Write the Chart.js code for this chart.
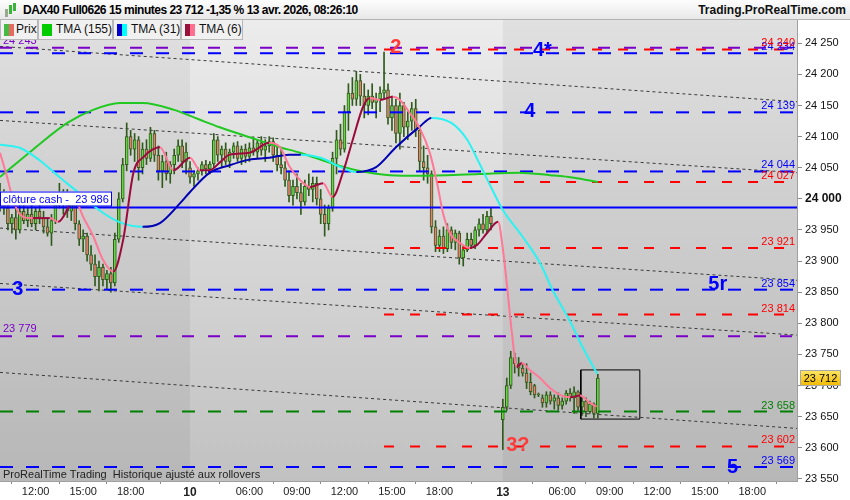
<!DOCTYPE html>
<html>
<head>
<meta charset="utf-8">
<script src="https://cdn.jsdelivr.net/npm/chart.js@4.4.1/dist/chart.umd.min.js"></script>
<style>
  body { margin: 0; background: #fff; font-family: "Liberation Sans", Arial, sans-serif; }
  #wrap { position: relative; width: 850px; height: 500px; overflow: hidden; }
  #chart { position: absolute; left: 0; top: 0; }
  #hdr { position: absolute; left: 0; top: 0; width: 850px; height: 20px; box-sizing: border-box;
         background: linear-gradient(#fdfdfd, #e8e8e8); border-bottom: 1px solid #b4b4b4; }
  #title { position: absolute; left: 23px; top: 3px; font-size: 12px; font-weight: bold; color: #000; letter-spacing: -0.5px; white-space: nowrap; }
  #site { position: absolute; right: 4px; top: 3px; font-size: 12px; font-weight: bold; color: #111; white-space: nowrap; }
  #icon span { position: absolute; width: 3px; }
  #legend { position: absolute; left: 0; top: 20px; height: 20px; }
  .cell { position: absolute; top: 0; height: 20px; box-sizing: border-box; background: #f1f1f1;
          border: 1px solid #b8b8b8; border-top: none; font-size: 12px; color: #111; line-height: 19px; }
  .cell i { position: absolute; top: 4px; width: 5px; height: 12px; }
  .cell b { position: absolute; font-weight: normal; white-space: nowrap; }
</style>
</head>
<body>
<div id="wrap">
  <canvas id="chart" width="850" height="500"></canvas>
  <div id="hdr">
    <div id="icon">
      <span style="left:5px;top:9px;height:8px;background:#9aa890"></span>
      <span style="left:9px;top:5px;height:9px;background:#3cb43c"></span>
      <span style="left:13px;top:3px;height:8px;background:#3cb43c"></span>
    </div>
    <div id="title">DAX40 Full0626 15 minutes 23 712 -1,35 % 13 avr. 2026, 08:26:10</div>
    <div id="site">Trading.ProRealTime.com</div>
  </div>
  <div id="legend">
    <div class="cell" style="left:0;width:38px"><i style="left:3px;background:#44bb44"></i><i style="left:8px;background:#e46a62"></i><b style="left:15px">Prix</b></div>
    <div class="cell" style="left:38px;width:75px"><i style="left:3px;width:10px;background:#00cc00"></i><b style="left:17px">TMA (155)</b></div>
    <div class="cell" style="left:113px;width:68px"><i style="left:3px;background:#0000cc"></i><i style="left:8px;background:#00ffff"></i><b style="left:17px">TMA (31)</b></div>
    <div class="cell" style="left:181px;width:62px"><i style="left:3px;background:#99103c"></i><i style="left:8px;background:#ff6f8f"></i><b style="left:17px">TMA (6)</b></div>
  </div>
</div>
<script>
// 15 minute candles, one slot per index (125-126 = weekend gap)
const opens = [
  23995,24010,23985,23960,23970,23950,23980,23965,23975,23960,
  23980,23970,23955,23945,23965,24000,23995,24005,23980,23995,
  23960,23935,23940,23910,23895,23875,23890,23870,23880,23865,
  23935,24000,24055,24100,24080,24095,24050,24080,24065,24105,
  24070,24045,24060,24040,24055,24070,24085,24060,24050,24035,
  24040,24045,24055,24048,24056,24095,24070,24080,24060,24075,
  24085,24065,24080,24068,24082,24075,24090,24078,24085,24092,
  24070,24055,24050,24030,24005,24020,24010,23995,24020,24015,
  24025,24000,23975,23960,23985,24065,24095,24080,24140,24170,
  24160,24190,24165,24150,24165,24155,24160,24170,24175,24130,
  24150,24105,24150,24115,24125,24145,24110,24060,24050,24040,
  23955,23925,23940,23920,23950,23930,23945,23905,23918,23935,
  23925,23950,23960,23950,23972,null,null,23645,23665,23700,
  23745,23735,23728,23720,23705,23700,23685,23680,23672,23685,
  23675,23680,23668,23675,23688,23680,23690,23665,23675,23658,
  23670,23655
];
const highs = [
  24025,24015,23995,23975,23985,23990,23995,23985,23990,23985,
  23995,23980,23970,23975,24010,24025,24015,24015,24010,24005,
  23965,23950,23945,23925,23910,23900,23895,23885,23890,23945,
  24010,24065,24122,24110,24105,24100,24090,24095,24115,24110,
  24085,24070,24075,24060,24080,24095,24095,24090,24060,24045,
  24050,24060,24062,24060,24105,24100,24085,24090,24080,24090,
  24092,24085,24088,24090,24098,24095,24100,24095,24100,24098,
  24085,24080,24060,24045,24030,24040,24025,24030,24040,24035,
  24035,24015,23990,23990,24075,24110,24120,24150,24185,24195,
  24205,24200,24185,24175,24185,24170,24180,24236,24185,24165,
  24160,24170,24155,24140,24155,24160,24115,24085,24070,24045,
  23965,23950,23955,23960,23955,23950,23948,23925,23945,23945,
  23955,23968,23975,23980,23985,null,null,23678,23712,23755,
  23752,23745,23735,23735,23720,23702,23688,23685,23690,23690,
  23685,23688,23680,23692,23695,23698,23692,23680,23680,23675,
  23672,23718
];
const lows = [
  23980,23975,23950,23945,23935,23945,23960,23955,23955,23950,
  23960,23945,23940,23925,23960,23985,23975,23970,23965,23950,
  23925,23915,23900,23885,23860,23852,23860,23855,23850,23860,
  23930,23995,24045,24070,24060,24030,24040,24055,24060,24060,
  24030,24018,24030,24025,24040,24060,24050,24040,24025,24020,
  24030,24038,24040,24040,24050,24060,24050,24055,24050,24065,
  24060,24055,24058,24060,24070,24065,24070,24060,24075,24060,
  24045,24040,24020,23995,23990,24000,23975,23990,24005,23995,
  23990,23960,23940,23950,23980,24040,24070,24075,24110,24150,
  24150,24150,24130,24135,24145,24130,24140,24160,24120,24110,
  24090,24080,24100,24095,24110,24100,24045,24030,24025,23945,
  23915,23915,23912,23915,23920,23918,23895,23892,23915,23920,
  23920,23940,23945,23945,23950,null,null,23597,23660,23695,
  23720,23715,23715,23695,23685,23680,23682,23665,23665,23670,
  23662,23660,23662,23670,23675,23655,23660,23652,23650,23655,
  23648,23648
];
const closes = [
  24010,23985,23960,23970,23950,23980,23965,23975,23960,23980,
  23970,23955,23945,23965,24000,23995,24005,23980,23995,23960,
  23935,23940,23910,23895,23875,23890,23870,23880,23865,23935,
  24000,24055,24100,24080,24095,24050,24080,24065,24105,24070,
  24045,24060,24040,24055,24070,24085,24060,24075,24035,24040,
  24045,24055,24048,24056,24095,24070,24080,24060,24075,24085,
  24065,24080,24068,24082,24075,24090,24078,24085,24092,24070,
  24055,24050,24030,24005,24020,24010,23995,24020,24015,24025,
  24000,23975,23960,23985,24065,24095,24080,24140,24170,24160,
  24190,24165,24150,24165,24155,24160,24170,24175,24130,24150,
  24105,24150,24115,24125,24145,24110,24060,24050,24040,23955,
  23925,23940,23920,23950,23930,23945,23905,23918,23935,23925,
  23950,23960,23950,23972,23960,null,null,23665,23700,23745,
  23735,23728,23720,23705,23690,23685,23686,23672,23685,23675,
  23680,23668,23675,23688,23680,23690,23665,23675,23658,23670,
  23655,23712
];

// moving averages (slot, price)
const tma155X = [0, 8.3, 17, 23.5, 30.3, 36, 44, 50.5, 55.5, 63, 70.7, 75.8, 83.3, 90, 98.5, 106, 121, 131, 139, 145, 151];
const tma155  = [24035, 24079, 24122, 24143, 24154, 24154, 24143, 24127, 24115, 24099, 24083, 24074, 24058, 24046, 24038, 24037, 24040, 24042, 24038, 24034, 24027];

const tma31X = [0, 5, 10, 15, 20, 25, 30, 36, 40.4, 45.5, 48, 53, 58, 63, 68, 73, 76, 81, 86, 90, 95, 100, 106, 109, 114, 118, 121, 124, 127, 132, 136.4, 139.6, 143.9, 147.2, 150.8];
const tma31  = [24087, 24082, 24062, 24035, 24009, 23982, 23963, 23955, 23961, 23993, 24011, 24042, 24054, 24063, 24066, 24071, 24071, 24066, 24051, 24043, 24051, 24083, 24116, 24130, 24122, 24095, 24058, 24019, 23982, 23939, 23897, 23853, 23804, 23761, 23719];

const tma6X = [0, 1.8, 3.3, 5.8, 8.3, 12.6, 14.7, 18.9, 21, 23.6, 26, 28.6, 31.1, 33.7, 36.2, 40.4, 43.8, 48, 50.5, 53, 55.6, 58, 63, 68, 70.7,
               73.2, 75.8, 78.3, 81.6, 84, 86.6, 89.1, 91.7, 93.4, 96, 99.2, 101, 103.5, 106, 108.6, 110.4, 111.9, 113.6, 116.2, 118.7,
               120.5, 123, 125.8, 127, 128, 129.3, 130.5, 131.8, 133.8, 136.4, 138.9, 141.4, 144, 146.5, 149, 150.7];
const tma6  = [24074, 24035, 23998, 23971, 23969, 23969, 23963, 23998, 23971, 23939, 23902, 23883, 23934, 24042, 24067, 24083, 24046, 24066, 24046, 24046, 24059, 24071, 24074, 24090, 24083,
               24051, 24030, 24019, 24025, 24003, 24042, 24095, 24148, 24162, 24159, 24164, 24159, 24138, 24114, 24073, 24025, 23977, 23945, 23929, 23921,
               23926, 23945, 23963, 23920, 23864, 23784, 23730, 23736, 23725, 23712, 23696, 23685, 23681, 23684, 23672, 23666];

// support / resistance levels
const purpleLevels = [24243, 23779];
const blueLevels   = [24234, 24139, 24044, 23854, 23569];
const redLevels    = [24240, 24027, 23921, 23814, 23602];
const greenLevels  = [23658];
const cashClose    = 23986;

// dotted channel lines: price at the left edge and at the right edge
const trendFrom = [24245, 24126, 23953, 23864, 23721];
const trendTo   = [24156, 24042, 23869, 23781, 23631];

// small box round the last candles
const boxIdx   = [146.7, 161.6];
const boxPrice = [23646, 23725];

// hand-written marks
const markText  = ['2', '4*', '4', '3', '5r', '3?', '5'];
const markIdx   = [100, 137, 133.8, 4.5, 181.3, 130.8, 185];
const markPrice = [24244, 24239, 24141, 23854, 23862, 23603, 23569];

// axes
const tickIdx = [9, 21, 33, 48, 63, 75, 87, 99, 111, 127, 142, 154, 166, 178, 190];
const tickLbl = ['12:00', '15:00', '18:00', '10', '06:00', '09:00', '12:00', '15:00', '18:00', '13', '06:00', '09:00', '12:00', '15:00', '18:00'];
const yTicks = [24250, 24200, 24150, 24100, 24050, 24000, 23950, 23900, 23850, 23800, 23750, 23700, 23650, 23600, 23550];
const X_MAX = 201.3, Y_MIN = 23546.5, Y_MAX = 24287.4;

const FONT = "'Liberation Sans', Arial, sans-serif";
const fmt = v => String(Math.round(v)).replace(/\B(?=(\d{3})+(?!\d))/g, ' ');
const BLUE = '#0000ff', RED = '#ff0000', PURPLE = '#7a00c8', GREEN = '#008000';

const candleIdx = opens.map((o, i) => i).filter(i => opens[i] !== null);
const firstHigh = highs.indexOf(Math.max(...highs.filter(v => v !== null)));
const dayStarts = tickIdx.filter((v, k) => tickLbl[k].indexOf(':') < 0);

function hLine(v, from, color, dash, width, order) {
  return {
    type: 'line', data: [{x: from, y: v}, {x: X_MAX, y: v}],
    borderColor: color, borderWidth: width, borderDash: dash,
    pointRadius: 0, fill: false, tension: 0, order: order
  };
}
function tma(xs, ys, up, down, order) {
  return {
    type: 'line', data: xs.map((x, k) => ({x: x, y: ys[k]})),
    borderColor: up, borderWidth: 2, pointRadius: 0, fill: false,
    cubicInterpolationMode: 'monotone',
    segment: { borderColor: c => c.p1.parsed.y >= c.p0.parsed.y ? up : down },
    order: order
  };
}

const datasets = [];
trendFrom.forEach((v, k) => datasets.push({
  type: 'line', data: [{x: 0, y: v}, {x: X_MAX, y: trendTo[k]}],
  borderColor: '#3a3a3a', borderWidth: 1, borderDash: [3, 3],
  pointRadius: 0, fill: false, order: 9
}));
datasets.push({
  type: 'bar', data: candleIdx.map(i => ({x: i, y: [lows[i], highs[i]]})),
  backgroundColor: '#2f5a1c', barThickness: 1, grouped: false, order: 8
});
datasets.push({
  type: 'bar', data: candleIdx.map(i => ({x: i, y: [opens[i], closes[i]]})),
  backgroundColor: c => (c.raw && c.raw.y[1] >= c.raw.y[0]) ? '#66d444' : '#e8806c',
  borderColor: '#2f5a1c', borderWidth: 1, borderSkipped: false,
  barThickness: 3, grouped: false, order: 7
});
purpleLevels.forEach(v => datasets.push(hLine(v, 0, PURPLE, [12, 14], 2, 6)));
blueLevels.forEach(v => datasets.push(hLine(v, 0, BLUE, [13, 13], 2, 6)));
redLevels.forEach(v => datasets.push(hLine(v, firstHigh, RED, [10, 16], 2, 6)));
greenLevels.forEach(v => datasets.push(hLine(v, 0, GREEN, [13, 13], 2, 6)));
datasets.push(hLine(cashClose, 0, BLUE, [], 2, 6));
datasets.push({
  type: 'line',
  data: [{x: boxIdx[0], y: boxPrice[0]}, {x: boxIdx[1], y: boxPrice[0]}, {x: boxIdx[1], y: boxPrice[1]},
         {x: boxIdx[0], y: boxPrice[1]}, {x: boxIdx[0], y: boxPrice[0]}],
  borderColor: '#000', borderWidth: 1, pointRadius: 0, fill: false, order: 5
});
datasets.push(tma(tma155X, tma155, '#22c822', '#22c822', 3));
datasets.push(tma(tma31X, tma31, '#0000b4', '#2cf2f2', 2));
datasets.push(tma(tma6X, tma6, '#9b0a3c', '#ff7896', 1));

const decor = {
  id: 'decor',
  beforeDraw(chart) {
    const {ctx, chartArea: a, scales: {x}} = chart;
    ctx.save();
    ctx.fillStyle = '#fff';
    ctx.fillRect(0, 0, chart.width, chart.height);
    const g = ctx.createLinearGradient(0, a.top, 0, a.bottom);
    g.addColorStop(0, '#ececec');
    g.addColorStop(1, '#c1c1c1');
    ctx.fillStyle = g;
    ctx.fillRect(a.left, a.top, a.right - a.left, a.bottom - a.top);
    // every other session a little darker
    const edges = [a.left].concat(dayStarts.map(d => x.getPixelForValue(d)), [a.right]);
    ctx.fillStyle = 'rgba(0,0,0,0.05)';
    for (let k = 0; k < edges.length - 1; k += 2) {
      ctx.fillRect(edges[k], a.top, edges[k + 1] - edges[k], a.bottom - a.top);
    }
    ctx.restore();
  },
  afterDatasetsDraw(chart) {
    const {ctx, chartArea: a, scales: {x, y}} = chart;
    ctx.save();
    ctx.font = '11px ' + FONT;
    ctx.textBaseline = 'alphabetic';
    // level values at the right
    ctx.textAlign = 'right';
    const right = [[blueLevels, BLUE], [redLevels, RED], [greenLevels, GREEN]];
    right.forEach(([lv, col]) => lv.forEach(v => {
      ctx.fillStyle = col;
      ctx.fillText(fmt(v), a.right - 2, y.getPixelForValue(v) - 3);
    }));
    ctx.textAlign = 'left';
    ctx.fillStyle = PURPLE;
    purpleLevels.forEach(v => ctx.fillText(fmt(v), 3, y.getPixelForValue(v) - 4));

    // cash close box
    const yc = y.getPixelForValue(cashClose);
    ctx.fillStyle = '#fff';
    ctx.fillRect(0, yc - 16, 111, 14);
    ctx.strokeStyle = BLUE;
    ctx.lineWidth = 1;
    ctx.strokeRect(0.5, yc - 15.5, 111, 14);
    ctx.fillStyle = BLUE;
    ctx.font = '11px ' + FONT;
    ctx.fillText('clôture cash -  ' + fmt(cashClose), 3, yc - 5);

    // hand marks
    ctx.font = 'bold 20px ' + FONT;
    ctx.textAlign = 'center';
    ctx.textBaseline = 'middle';
    markText.forEach((t, k) => {
      ctx.fillStyle = t.indexOf('2') >= 0 || t.indexOf('?') >= 0 ? '#ff3a3a' : BLUE;
      ctx.fillText(t, x.getPixelForValue(markIdx[k]), y.getPixelForValue(markPrice[k]));
    });

    ctx.font = '11px ' + FONT;
    ctx.textAlign = 'left';
    ctx.textBaseline = 'bottom';
    ctx.fillStyle = '#222';
    ctx.fillText('ProRealTime Trading  Historique ajusté aux rollovers', 3, a.bottom - 1);
    ctx.restore();
  },
  afterDraw(chart) {
    const {ctx, chartArea: a, scales: {y}} = chart;
    const last = closes[closes.length - 1];
    const yp = Math.round(y.getPixelForValue(last));
    ctx.save();
    const g = ctx.createLinearGradient(0, yp - 8, 0, yp + 8);
    g.addColorStop(0, '#ffe866');
    g.addColorStop(1, '#f2b800');
    ctx.fillStyle = g;
    ctx.fillRect(a.right + 3, yp - 8, 41, 16);
    ctx.strokeStyle = '#a8a8a8';
    ctx.strokeRect(a.right + 3.5, yp - 7.5, 40, 15);
    ctx.fillStyle = '#000';
    ctx.font = '11px ' + FONT;
    ctx.textAlign = 'center';
    ctx.textBaseline = 'middle';
    ctx.fillText(fmt(last), a.right + 23.5, yp + 0.5);
    ctx.restore();
  }
};

new Chart(document.getElementById('chart'), {
  type: 'bar',
  data: { datasets: datasets },
  options: {
    responsive: false,
    animation: false,
    events: [],
    layout: { padding: { top: 20, left: 0, right: 0, bottom: 0 } },
    plugins: { legend: { display: false }, tooltip: { enabled: false } },
    scales: {
      x: {
        type: 'linear', min: 0, max: X_MAX, offset: false,
        afterBuildTicks: s => { s.ticks = tickIdx.map(v => ({value: v})); },
        afterFit: s => { s.height = 19; },
        grid: { drawOnChartArea: false, tickLength: 3, color: '#8a8a8a' },
        border: { color: '#a0a0a0' },
        ticks: {
          autoSkip: false, maxRotation: 0, padding: 1, color: '#222',
          font: c => {
            const lbl = tickLbl[tickIdx.indexOf(c.tick && c.tick.value)] || '';
            return lbl.indexOf(':') < 0 ? {family: FONT, size: 12, weight: 'bold'} : {family: FONT, size: 11};
          },
          callback: v => tickLbl[tickIdx.indexOf(v)]
        }
      },
      y: {
        position: 'right', min: Y_MIN, max: Y_MAX,
        afterBuildTicks: s => { s.ticks = yTicks.map(v => ({value: v})); },
        afterFit: s => { s.width = 53; },
        grid: { drawOnChartArea: false, tickLength: 5, color: '#8a8a8a' },
        border: { color: '#a0a0a0' },
        ticks: {
          padding: 3, color: '#111',
          font: c => (c.tick && c.tick.value === 24000) ? {family: FONT, size: 12, weight: 'bold'} : {family: FONT, size: 11},
          callback: v => fmt(v)
        }
      }
    }
  },
  plugins: [decor]
});
</script>
</body>
</html>
